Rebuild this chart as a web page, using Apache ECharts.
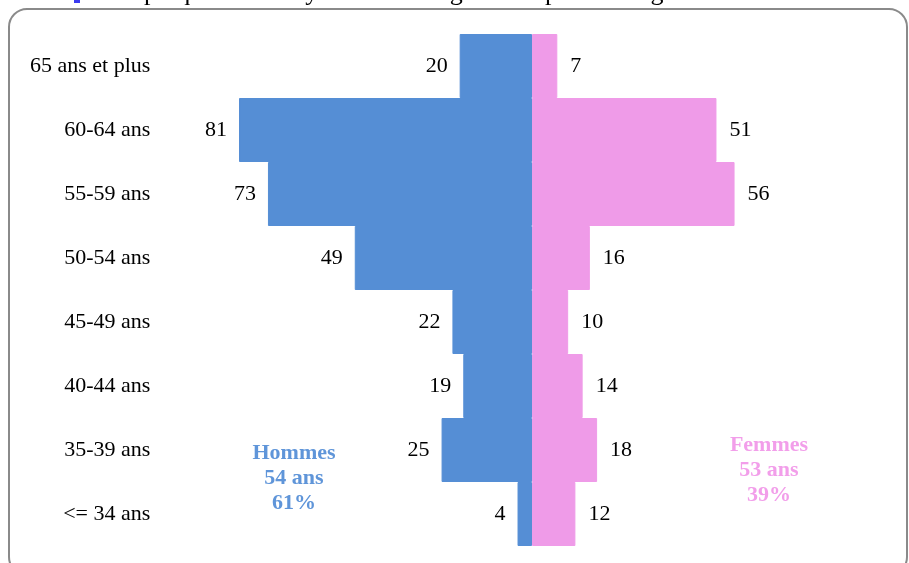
<!DOCTYPE html>
<html>
<head>
<meta charset="utf-8">
<script src="https://cdn.jsdelivr.net/npm/echarts@6/dist/echarts.min.js"></script>
<style>
html,body{margin:0;padding:0;background:#fff;}
#chart{width:909px;height:563px;}
</style>
</head>
<body>
<div id="chart"></div>
<script>
// Age pyramid of ophthalmologists
var ageGroups = ['65 ans et plus', '60-64 ans', '55-59 ans', '50-54 ans', '45-49 ans', '40-44 ans', '35-39 ans', '<= 34 ans'];
var hommes = [20, 81, 73, 49, 22, 19, 25, 4];
var femmes = [7, 51, 56, 16, 10, 14, 18, 12];
var hommesInfo = ['Hommes', '54 ans', '61%'];
var femmesInfo = ['Femmes', '53 ans', '39%'];
var titleText = 'Graphique n°61 : Pyramide des âges des ophtalmologistes';

var serif = '"Liberation Serif", "DejaVu Serif", serif';
var blue = '#558ED5';
var pink = '#EF9BE8';

var chart = echarts.init(document.getElementById('chart'), null, {renderer: 'canvas'});

chart.setOption({
  animation: false,
  backgroundColor: '#ffffff',
  grid: {left: 170.3, width: 723.4, top: 34, height: 512, containLabel: false},
  xAxis: {
    type: 'value', min: -100, max: 100, show: false,
    splitLine: {show: false}
  },
  yAxis: {
    type: 'category', data: ageGroups, inverse: true,
    axisLine: {show: false, onZero: false},
    axisTick: {show: false},
    axisLabel: {margin: 20, color: '#000', fontFamily: serif, fontSize: 22, padding: [3, 0, 0, 0]}
  },
  series: [
    {
      name: 'Hommes', type: 'bar', stack: 'pyr',
      data: hommes.map(function (v) { return -v; }),
      barCategoryGap: '0%',
      itemStyle: {color: blue, borderColor: blue, borderWidth: 1},
      label: {
        show: true, position: 'left', distance: 12,
        color: '#000', fontFamily: serif, fontSize: 22, padding: [4, 0, 0, 0],
        formatter: function (p) { return Math.abs(p.value); }
      }
    },
    {
      name: 'Femmes', type: 'bar', stack: 'pyr',
      data: femmes,
      barCategoryGap: '0%',
      itemStyle: {color: pink, borderColor: pink, borderWidth: 1},
      label: {
        show: true, position: 'right', distance: 13,
        color: '#000', fontFamily: serif, fontSize: 22, padding: [4, 0, 0, 0]
      }
    }
  ],
  graphic: [
    {
      type: 'rect', silent: true, z: -1,
      shape: {x: 9, y: 9, width: 898, height: 566, r: 18},
      style: {fill: 'none', stroke: '#8a8a8a', lineWidth: 2}
    },
    {
      type: 'rect', silent: true,
      shape: {x: 74, y: -2, width: 6, height: 5},
      style: {fill: '#3b3bf0'}
    },
    {
      type: 'text', silent: true, x: 105, y: 6,
      style: {text: titleText, fill: '#000', font: '26px ' + serif, textAlign: 'left', textVerticalAlign: 'bottom'}
    },
    {
      type: 'text', silent: true, x: 294, y: 478,
      style: {text: hommesInfo.join('\n'), fill: '#5F95D9', font: 'bold 22px ' + serif, lineHeight: 25, textAlign: 'center', textVerticalAlign: 'middle'}
    },
    {
      type: 'text', silent: true, x: 769, y: 470,
      style: {text: femmesInfo.join('\n'), fill: '#F29EEA', font: 'bold 22px ' + serif, lineHeight: 25, textAlign: 'center', textVerticalAlign: 'middle'}
    }
  ]
});
</script>
</body>
</html>
